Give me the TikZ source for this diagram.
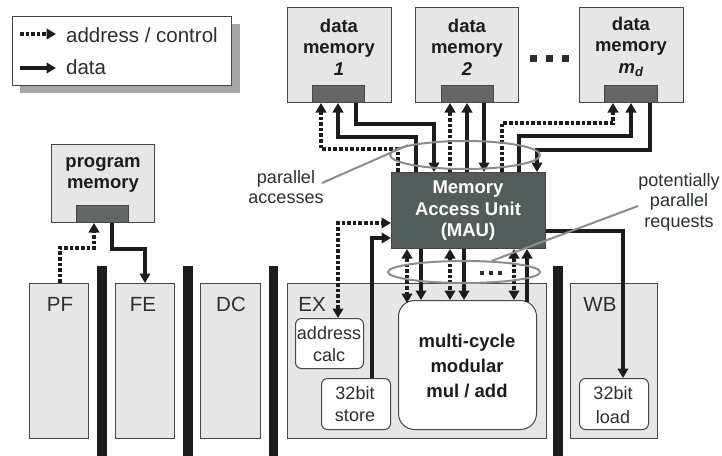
\documentclass[tikz,border=0pt]{standalone}
\usepackage{fontspec}
\setmainfont{Liberation Sans}
\usetikzlibrary{arrows.meta,calc,shapes.geometric}
\definecolor{boxfill}{RGB}{230,230,230}
\definecolor{portfill}{RGB}{98,102,101}
\definecolor{maufill}{RGB}{82,92,90}
\definecolor{edge}{RGB}{70,70,70}
\definecolor{ink}{RGB}{28,28,28}
\definecolor{ellgray}{RGB}{140,140,140}
\definecolor{shadowgray}{RGB}{165,165,165}
\definecolor{labelink}{RGB}{40,48,48}
\begin{document}
\begin{tikzpicture}[x=1pt,y=-1pt,
  box/.style={draw=edge,line width=1pt,fill=boxfill,inner sep=0pt,anchor=north west},
  port/.style={draw=edge,line width=1pt,fill=portfill,inner sep=0pt,anchor=north west},
  inbox/.style={draw=edge,line width=1pt,fill=white,inner sep=0pt,anchor=north west,rounded corners=6pt},
  bar/.style={fill=ink,draw=none,inner sep=0pt,anchor=north west},
  tipA/.tip={Triangle[width=10.5pt,length=9.5pt]},
  dat/.style={draw=ink,line width=3.8pt,line cap=butt,line join=miter},
  adr/.style={dat,dash pattern=on 3.6pt off 2pt},
  bigtxt/.style={font=\fontsize{20.5}{24}\selectfont,text=labelink,inner sep=0pt},
  txt/.style={font=\fontsize{18}{21.5}\selectfont,text=labelink,align=center,inner sep=0pt},
  btxt/.style={font=\fontsize{18.5}{21.5}\selectfont\bfseries,text=ink,align=center,inner sep=0pt},
  ell/.style={ellipse,draw=ellgray,line width=2pt,inner sep=0pt},
  glink/.style={draw=ellgray,line width=2pt},
  dot/.style={fill=labelink,draw=none,inner sep=0pt,anchor=north west}
]
\useasboundingbox (0,0) rectangle (722,455);

% legend
\node[fill=shadowgray,inner sep=0pt,anchor=north west,minimum width=220pt,minimum height=69pt] (legshadow) at (20,24) {};
\node[draw=edge,line width=1pt,fill=white,inner sep=0pt,anchor=north west,minimum width=219pt,minimum height=69pt] (legend) at (12,16) {};
\coordinate (la1) at ($(legend.north west)+(8,18)$);
\coordinate (la2) at ($(legend.north west)+(44,18)$);
\coordinate (lb1) at ($(legend.north west)+(8,52)$);
\coordinate (lb2) at ($(legend.north west)+(44,52)$);
\draw[adr,-tipA] (la1) -- (la2);
\draw[dat,-tipA] (lb1) -- (lb2);
\node[bigtxt,anchor=west] (legadr) at (66,35) {address / control};
\node[bigtxt,anchor=west] (legdat) at (66,67) {data};

% pipeline stages
\node[box,minimum width=59pt,minimum height=155pt] (pf) at (29,283) {};
\node[box,minimum width=59pt,minimum height=155pt] (fe) at (115,283) {};
\node[box,minimum width=60pt,minimum height=155pt] (dc) at (200,283) {};
\node[box,minimum width=259pt,minimum height=155pt] (ex) at (287,283) {};
\node[box,minimum width=87pt,minimum height=155pt] (wb) at (570,283) {};
\node[bar,minimum width=10pt,minimum height=190pt] (bar1) at (97,266) {};
\node[bar,minimum width=10pt,minimum height=190pt] (bar2) at (183,266) {};
\node[bar,minimum width=9pt,minimum height=190pt] (bar3) at (269,266) {};
\node[bar,minimum width=10pt,minimum height=190pt] (bar4) at (553,266) {};
\node[bigtxt] (pft) at (60,304) {PF};
\node[bigtxt] (fet) at (143,304) {FE};
\node[bigtxt] (dct) at (231,304) {DC};
\node[bigtxt] (ext) at (312,304) {EX};
\node[bigtxt] (wbt) at (600,304) {WB};

% program memory
\node[box,minimum width=103pt,minimum height=78pt] (pm) at (51,144) {};
\node[port,minimum width=52pt,minimum height=17pt] (pmp) at (76,205) {};
\node[btxt] (pmt) at (103,175) {program\\memory};

% data memories
\node[box,minimum width=104pt,minimum height=95pt] (dm1) at (287,7) {};
\node[box,minimum width=103pt,minimum height=95pt] (dm2) at (415,7) {};
\node[box,minimum width=104pt,minimum height=95pt] (dm3) at (579,7) {};
\node[port,minimum width=52pt,minimum height=17pt] (p1) at (312,85) {};
\node[port,minimum width=52pt,minimum height=17pt] (p2) at (441,85) {};
\node[port,minimum width=53pt,minimum height=17pt] (p3) at (604,85) {};
\node[btxt] (dm1t) at (339,47) {data\\memory\\\textit{1}};
\node[btxt] (dm2t) at (467,47) {data\\memory\\\textit{2}};
\node[btxt] (dm3t) at (631,47) {data\\memory\\\textit{m\textsubscript{d}}};
\node[dot,minimum size=7pt] (d1) at (530,55) {};
\node[dot,minimum size=7pt] (d2) at (546,55) {};
\node[dot,minimum size=7pt] (d3) at (562,55) {};

% MAU
\node[draw=edge,line width=1pt,fill=maufill,inner sep=0pt,anchor=north west,minimum width=154pt,minimum height=76pt] (mau) at (391,172) {};
\node[btxt,text=white] (maut) at (468,211) {Memory\\Access Unit\\(MAU)};

% EX / WB inner boxes
\node[inbox,minimum width=68pt,minimum height=50pt] (ac) at (295,318) {};
\node[txt] (act) at (329,344) {address\\calc};
\node[inbox,minimum width=69pt,minimum height=51pt] (st) at (321,378) {};
\node[txt] (stt) at (355,404) {32bit\\store};
\node[inbox,rounded corners=16pt,minimum width=138pt,minimum height=129pt] (mul) at (398,300) {};
\node[btxt,font=\fontsize{18.5}{25}\selectfont\bfseries] (mult) at (467,366) {multi-cycle\\modular\\mul / add};
\node[inbox,minimum width=69pt,minimum height=51pt] (ld) at (579,378) {};
\node[txt,font=\fontsize{18}{24}\selectfont] (ldt) at (613,405) {32bit\\load};

% program memory connectors
\draw[adr,-tipA] ($(pf.north west)+(31,0)$) -- ++(0,-35) -| ($(pmp.south west)+(18,0)$);
\draw[dat,-tipA] ($(pmp.south west)+(36,0)$) -- ++(0,26) -| ($(fe.north west)+(30,0)$);

% data memory 1
\draw[adr,-tipA] ($(mau.north west)+(7,0)$) -- ++(0,-23) -| ($(p1.south west)+(9,0)$);
\draw[dat,-tipA] ($(mau.north west)+(25,0)$) -- ++(0,-35) -| ($(p1.south west)+(26,0)$);
\draw[dat,-tipA] ($(p1.south west)+(44,0)$) -- ++(0,21) -| ($(mau.north west)+(43,0)$);
% data memory 2
\draw[adr,-tipA] ($(mau.north west)+(59,0)$) -- ($(p2.south west)+(9,0)$);
\draw[dat,-tipA] ($(mau.north west)+(76,0)$) -- ($(p2.south west)+(26,0)$);
\draw[dat,-tipA] ($(p2.south west)+(43,0)$) -- ($(mau.north west)+(93,0)$);
% data memory m_d
\draw[adr,-tipA] ($(mau.north west)+(111,0)$) -- ++(0,-49) -| ($(p3.south west)+(9,0)$);
\draw[dat,-tipA] ($(mau.north west)+(128,0)$) -- ++(0,-36) -| ($(p3.south west)+(27,0)$);
\draw[dat,-tipA] ($(p3.south west)+(46,0)$) -- ++(0,47) -| ($(mau.north west)+(146,0)$);

% EX <-> MAU
\draw[adr,tipA-tipA] ($(ac.north west)+(43,0)$) |- ($(mau.north west)+(0,51)$);
\draw[dat,-tipA] ($(st.north west)+(51,0)$) |- ($(mau.north west)+(0,66)$);
\draw[dat,-tipA] ($(mau.north east)+(0,59)$) -| ($(ld.north west)+(44,0)$);

% MAU <-> multi-cycle unit
\draw[adr,tipA-tipA] ($(mau.south west)+(16,0)$) -- ($(mul.north west)+(9,3)$);
\draw[dat,-tipA] ($(mau.south west)+(30,0)$) -- ($(mul.north west)+(23,0)$);
\draw[adr,tipA-tipA] ($(mau.south west)+(59,0)$) -- ($(mul.north west)+(52,0)$);
\draw[dat,-tipA] ($(mau.south west)+(73,0)$) -- ($(mul.north west)+(66,0)$);
\draw[adr,tipA-tipA] ($(mau.south west)+(123,0)$) -- ($(mul.north west)+(116,0)$);
\draw[dat,-tipA] ($(mul.north west)+(129,2)$) -- ($(mau.south west)+(136,0)$);

% ellipses and annotations
\node[ell,minimum width=150pt,minimum height=28pt] (ellA) at (465,155) {};
\node[ell,minimum width=152pt,minimum height=22pt] (ellB) at (464,272) {};
\node[dot,minimum size=3.5pt] (e1) at (480,271) {};
\node[dot,minimum size=3.5pt] (e2) at (489,271) {};
\node[dot,minimum size=3.5pt] (e3) at (498,271) {};
\node[txt,font=\fontsize{18}{20.5}\selectfont] (pacc) at (286,187) {parallel\\accesses};
\node[txt,font=\fontsize{18}{20.5}\selectfont] (preq) at (679,202) {potentially\\parallel\\requests};
\coordinate (paccend) at (322,183);
\coordinate (preqend) at (638,206);
\draw[glink] (paccend) -- (ellA.170);
\draw[glink] (preqend) -- (ellB.22);
\end{tikzpicture}
\end{document}
